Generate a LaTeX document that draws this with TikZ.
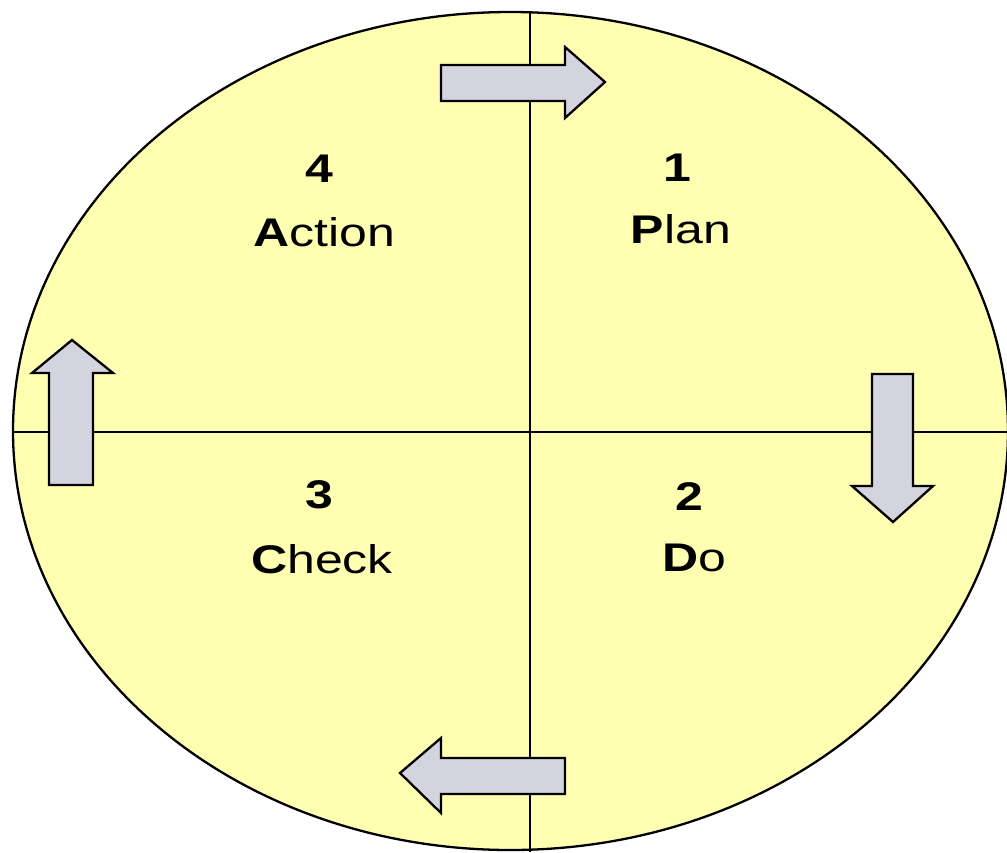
\documentclass[tikz,border=0pt]{standalone}
\usepackage{fontspec}
\setmainfont{Liberation Sans}
\definecolor{pdcayellow}{RGB}{255,255,178}
\definecolor{arrowfill}{RGB}{212,212,222}
\tikzset{
  num/.style={font=\fontsize{40}{40}\selectfont\bfseries, xscale=1.25, inner sep=0pt, anchor=base},
  word/.style={font=\fontsize{40}{40}\selectfont, xscale=1.25, inner sep=0pt, anchor=base},
  blockarrow/.style={draw=black, line width=2.3pt, fill=arrowfill, line join=miter},
  axis/.style={draw=black, line width=2.3pt}
}
\begin{document}
\begin{tikzpicture}[x=1pt,y=-1pt]
\useasboundingbox (0,0) rectangle (1007,852);
\fill[white] (0,0) rectangle (1007,852);
% ellipse
\draw[line width=2.3pt, fill=pdcayellow] (510.5,431) ellipse [x radius=497.5, y radius=419];
% axes
\coordinate (vtop) at (530,12);
\coordinate (vbot) at (530,852);
\coordinate (hleft) at (12,432);
\coordinate (hright) at (1007,432);
\draw[axis] (vtop) -- (vbot);
\draw[axis] (hleft) -- (hright);
% block arrows
\draw[blockarrow] (441,65) -- (565,65) -- (565,47) -- (605,82) -- (565,118) -- (565,101) -- (441,101) -- cycle;
\draw[blockarrow] (872,374) -- (913,374) -- (913,486) -- (933,486) -- (893,522) -- (852,486) -- (872,486) -- cycle;
\draw[blockarrow] (565,758) -- (565,794) -- (441,794) -- (441,813) -- (400,773) -- (441,738) -- (441,758) -- cycle;
\draw[blockarrow] (49,485) -- (49,373) -- (32,373) -- (72,340) -- (113,373) -- (93,373) -- (93,485) -- cycle;
% labels
\node[num] (n4) at (319,182) {4};
\node[word] (w4) at (324,246) {\textbf{A}ction};
\node[num] (n1) at (677,181) {1};
\node[word] (w1) at (681,243) {\textbf{P}lan};
\node[num] (n3) at (319,508) {3};
\node[word] (w3) at (322,573) {\textbf{C}heck};
\node[num] (n2) at (689,510) {2};
\node[word] (w2) at (694,571) {\textbf{D}o};
\end{tikzpicture}
\end{document}
